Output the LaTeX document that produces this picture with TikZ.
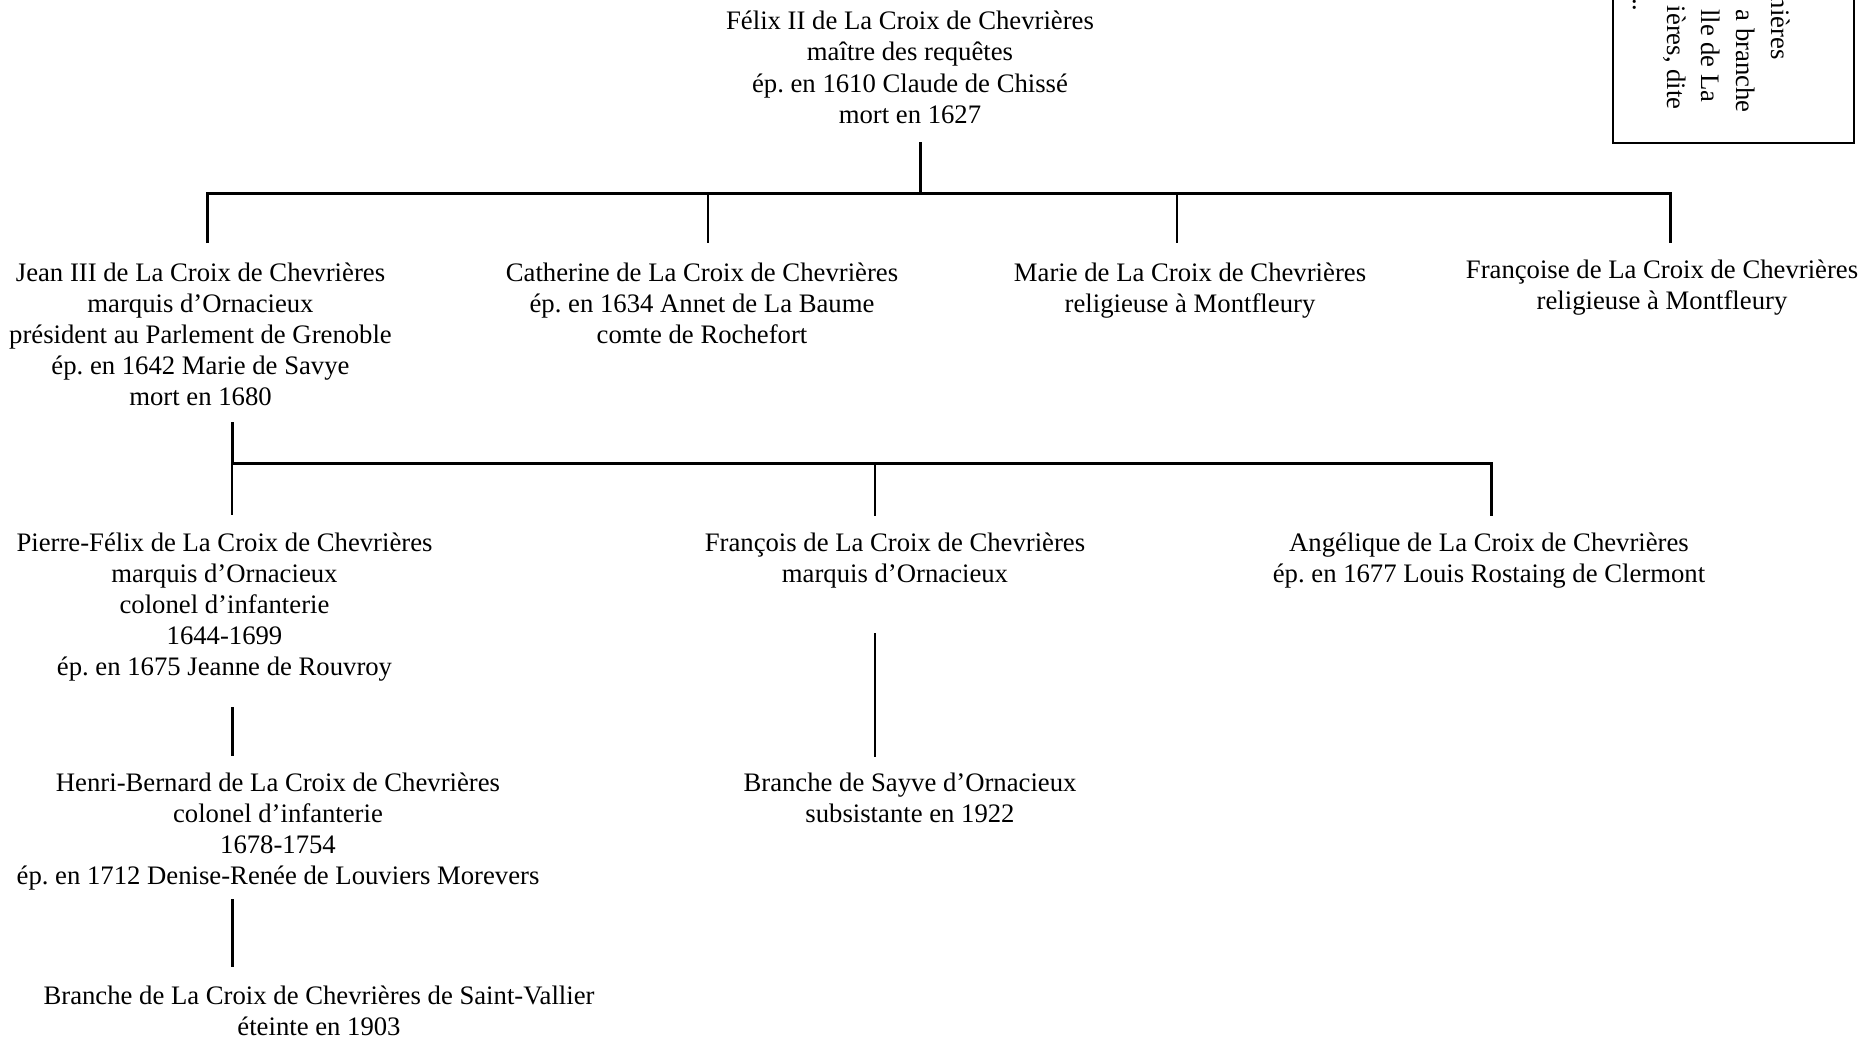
\documentclass[tikz,border=0pt]{standalone}
\usepackage{fontspec}
\setmainfont{Liberation Serif}
\frenchspacing
\begin{document}
\begin{tikzpicture}[x=0.5pt,y=-0.5pt,
  person/.style={align=center, inner sep=0pt, anchor=north, font=\fontsize{13.35}{15.6}\selectfont\frenchspacing},
  boxtext/.style={inner sep=0pt, rotate=-90, anchor=base east, font=\fontsize{13.35}{15.6}\selectfont},
  thickline/.style={line width=1.5pt, line join=miter},
  thinline/.style={line width=0.55pt}]
\useasboundingbox (0,0) rectangle (1866,1040);
\clip (0,0) rectangle (1866,1040);

% people
\node[person] (felix) at (910,7.4) {\strut Félix II de La Croix de Chevrières\\maître des requêtes\\ép. en 1610 Claude de Chissé\\mort en 1627};
\node[person] (jean) at (200.5,258.8) {\strut Jean III de La Croix de Chevrières\\marquis d’Ornacieux\\président au Parlement de Grenoble\\ép. en 1642 Marie de Savye\\mort en 1680};
\node[person] (cath) at (702,258.8) {\strut Catherine de La Croix de Chevrières\\ép. en 1634 Annet de La Baume\\comte de Rochefort};
\node[person] (marie) at (1190,258.8) {\strut Marie de La Croix de Chevrières\\religieuse à Montfleury};
\node[person] (franc) at (1662,256.3) {\strut Françoise de La Croix de Chevrières\\religieuse à Montfleury};
\node[person] (pierre) at (224.5,528.8) {\strut Pierre-Félix de La Croix de Chevrières\\marquis d’Ornacieux\\colonel d’infanterie\\1644-1699\\ép. en 1675 Jeanne de Rouvroy};
\node[person] (francois) at (895,528.8) {\strut François de La Croix de Chevrières\\marquis d’Ornacieux};
\node[person] (angel) at (1489,528.8) {\strut Angélique de La Croix de Chevrières\\ép. en 1677 Louis Rostaing de Clermont};
\node[person] (henri) at (278,768.8) {\strut Henri-Bernard de La Croix de Chevrières\\colonel d’infanterie\\1678-1754\\ép. en 1712 Denise-Renée de Louviers Morevers};
\node[person] (sayve) at (910,768.8) {\strut Branche de Sayve d’Ornacieux\\subsistante en 1922};
\node[person] (stv) at (319,982.1) {\strut Branche de La Croix de Chevrières de Saint-Vallier\\éteinte en 1903};

% note box (cut by the top edge)
\draw[line width=1pt] (1613,-10) rectangle (1854,143);
\node[boxtext] (bt1) at (1771.7,60) {nières};
\node[boxtext] (bt2) at (1736,113) {a branche};
\node[boxtext] (bt3) at (1701,103) {lle de La};
\node[boxtext] (bt4) at (1667,110) {ières, dite};
\node[boxtext] (bt5) at (1633,12) {..};

% connector points
\coordinate (fa) at (920,142);   \coordinate (fb) at (920,193);
\coordinate (b1l) at (207,193);  \coordinate (b1r) at (1670,193);
\coordinate (jt) at (207,243);   \coordinate (frt) at (1670,243);
\coordinate (cb) at (708,193);   \coordinate (ct) at (708,243);
\coordinate (mb) at (1177,193);  \coordinate (mt) at (1177,243);
\coordinate (ja) at (232,422);   \coordinate (b2l) at (232,463);
\coordinate (b2r) at (1491,463); \coordinate (at) at (1491,516);
\coordinate (pt) at (232,515);
\coordinate (fcb) at (875,463);  \coordinate (fct) at (875,516);
\coordinate (pa) at (232,707);   \coordinate (ht) at (232,756);
\coordinate (ha) at (232,899);   \coordinate (st) at (232,967);
\coordinate (fa2) at (875,633);  \coordinate (sy) at (875,757);

% first generation
\draw[thickline] (fa) -- (fb);
\draw[thickline] (jt) -- (b1l) -- (b1r) -- (frt);
\draw[thinline] (cb) -- (ct);
\draw[thinline] (mb) -- (mt);

% second generation
\draw[thickline] (ja) -- (b2l) -- (b2r) -- (at);
\draw[thinline] (b2l) -- (pt);
\draw[thinline] (fcb) -- (fct);

% descendants
\draw[thickline] (pa) -- (ht);
\draw[thickline] (ha) -- (st);
\draw[thinline] (fa2) -- (sy);
\end{tikzpicture}
\end{document}
